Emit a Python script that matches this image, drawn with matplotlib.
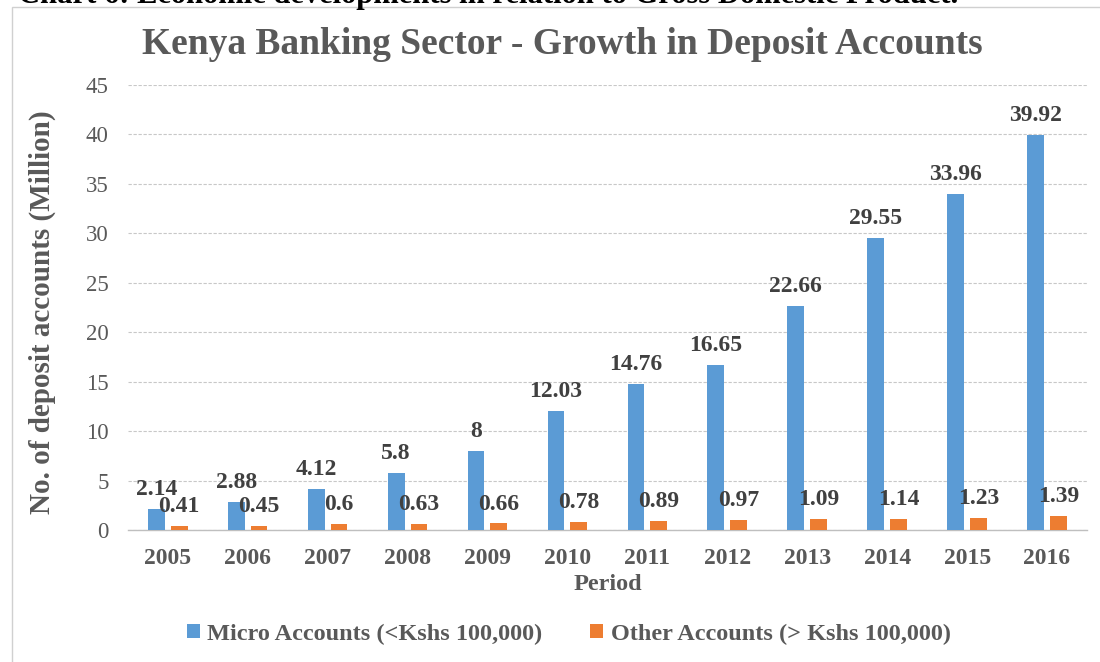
import matplotlib
matplotlib.use('Agg')
import matplotlib.pyplot as plt
from matplotlib.patches import Rectangle
import numpy as np

# Data
years = ['2005', '2006', '2007', '2008', '2009', '2010',
         '2011', '2012', '2013', '2014', '2015', '2016']
micro_accounts = [2.14, 2.88, 4.12, 5.8, 8, 12.03, 14.76, 16.65, 22.66, 29.55, 33.96, 39.92]
other_accounts = [0.41, 0.45, 0.6, 0.63, 0.66, 0.78, 0.89, 0.97, 1.09, 1.14, 1.23, 1.39]
micro_labels = ['2.14', '2.88', '4.12', '5.8', '8', '12.03', '14.76', '16.65',
                '22.66', '29.55', '33.96', '39.92']
other_labels = ['0.41', '0.45', '0.6', '0.63', '0.66', '0.78', '0.89', '0.97',
                '1.09', '1.14', '1.23', '1.39']

serif = ['Liberation Serif', 'DejaVu Serif']
grey = '#595959'
dark = '#404040'
blue = '#5B9BD5'
orange = '#ED7D31'

fig = plt.figure(figsize=(11, 6.62), dpi=100)
ax = fig.add_axes([0.1164, 0.1994, 0.8718, 0.6722])

# chart area frame (cropped at right/bottom in the reference)
fig.patches.append(Rectangle((12 / 1100, -0.05), 1.1, 1.05 - 7 / 662,
                             transform=fig.transFigure, fill=False,
                             edgecolor='#d0d0d0', lw=1.0))

# caption from the document, mostly cut off at the top
fig.text(18 / 1100, 1 - 3 / 662, 'Chart 6: Economic developments in relation to Gross Domestic Product.',
         family=serif, fontsize=22, fontweight='bold', color='black', va='baseline', ha='left')

x = np.arange(len(years))
w = 0.21
b1 = ax.bar(x - 0.145, micro_accounts, width=w, color=blue, label='Micro Accounts (<Kshs 100,000)', zorder=3)
b2 = ax.bar(x + 0.14, other_accounts, width=w, color=orange, label='Other Accounts (> Kshs 100,000)', zorder=3)

for bars, labels in ((b1, micro_labels), (b2, other_labels)):
    for rect, lab in zip(bars, labels):
        ax.annotate(lab, (rect.get_x() + rect.get_width() / 2, rect.get_height()),
                    xytext=(0, 14), textcoords='offset points', ha='center', va='center',
                    family=serif, fontsize=17, fontweight='bold', color=dark, zorder=4)

ax.set_xlim(-0.5, len(years) - 0.5)
ax.set_ylim(0, 45)
ax.set_yticks(range(0, 46, 5))
ax.set_xticks(x)
ax.set_xticklabels(years)

for s in ('top', 'right', 'left'):
    ax.spines[s].set_visible(False)
ax.spines['bottom'].set_color('#bfbfbf')
ax.spines['bottom'].set_linewidth(1.0)
ax.grid(axis='y', color='#c8c8c8', linestyle=(0, (3, 1.5)), lw=0.8, zorder=0)
ax.tick_params(axis='both', length=0)
ax.tick_params(axis='y', pad=14, labelcolor=grey, labelsize=16.5)
ax.tick_params(axis='x', pad=13, labelcolor=grey, labelsize=17)
for t in ax.get_yticklabels():
    t.set_family(serif)
for t in ax.get_xticklabels():
    t.set_family(serif)
    t.set_fontweight('bold')

ax.set_xlabel('Period', family=serif, fontsize=17.5, fontweight='bold', color=grey)
ax.xaxis.set_label_coords(0.5, -0.098)
ax.set_ylabel('No. of deposit accounts (Million)', family=serif, fontsize=21,
              fontweight='bold', color=grey)
ax.yaxis.set_label_coords(-0.075, 0.49)

fig.text(0.511, 1 - 45 / 662, 'Kenya Banking Sector - Growth in Deposit Accounts',
         family=serif, fontsize=27, fontweight='bold', color=grey, ha='center', va='center')

fig.legend(handles=[b1, b2], loc='center', bbox_to_anchor=(0.517, 1 - 634 / 662), ncol=2,
           frameon=False, prop={'family': serif, 'size': 17.5, 'weight': 'bold'},
           labelcolor=grey, handlelength=0.55, handleheight=0.55, handletextpad=0.3,
           columnspacing=1.95)

fig.savefig('out.png', dpi=100)
